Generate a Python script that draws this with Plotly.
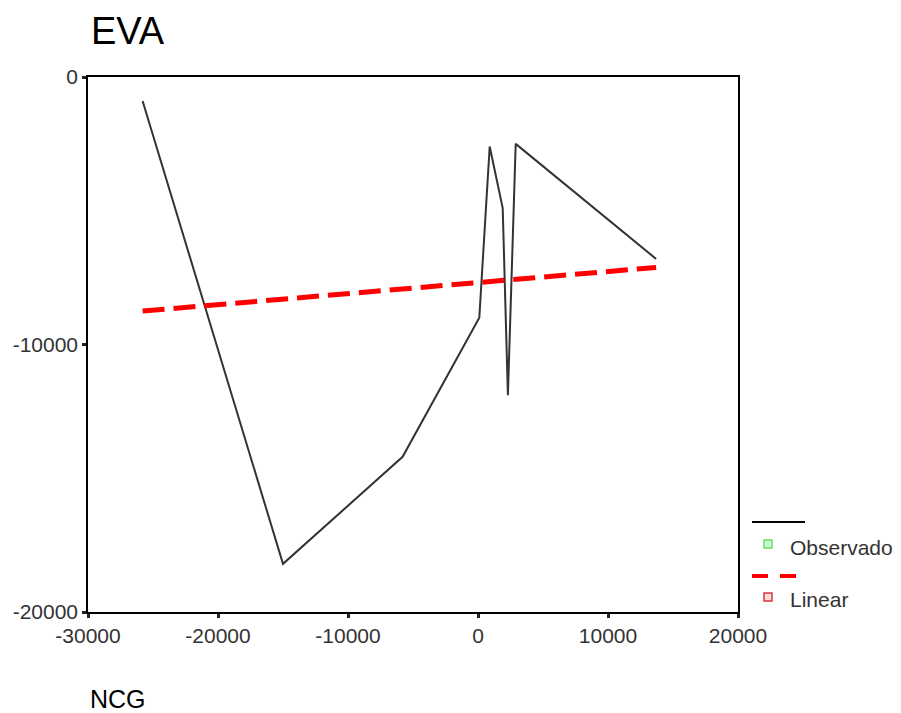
import plotly.graph_objects as go

# Observed series (NCG vs EVA)
obs_x = [-25800, -15000, -5800, 100, 900, 1900, 2300, 2900, 13700]
obs_y = [-900, -18200, -14200, -9000, -2600, -4900, -11900, -2500, -6800]

# Linear fit endpoints
lin_x = [-25800, 13700]
lin_y = [-8750, -7120]

x_ticks = [-30000, -20000, -10000, 0, 10000, 20000]
y_ticks = [-20000, -10000, 0]

FONT = "Liberation Sans, Arial, sans-serif"

# page body has 8px margin; figure sized to fill the 901x713 window
W, H = 893, 705
L, R, T, B = 80, 163, 69, 101
PW, PH = W - L - R, H - T - B  # 650 x 535


def px(xp):  # window x pixel -> paper x
    return (xp - 8 - L) / PW


def py(yp):  # window y pixel -> paper y
    return (H - B - (yp - 8)) / PH


fig = go.Figure()
fig.add_trace(go.Scatter(x=obs_x, y=obs_y, mode="lines",
                         line=dict(color="#333333", width=2), name="Observado",
                         showlegend=False))
fig.add_trace(go.Scatter(x=lin_x, y=lin_y, mode="lines",
                         line=dict(color="#ff0000", width=5, dash="22px,9px"),
                         name="Linear", showlegend=False))

axis_common = dict(showgrid=False, zeroline=False, showline=True, mirror=True,
                   linecolor="black", linewidth=1.5, ticks="outside", ticklen=4,
                   tickwidth=3, tickcolor="#222222", automargin=False,
                   tickfont=dict(size=21, color="#333333"))

fig.update_layout(
    width=W, height=H,
    margin=dict(l=L, r=R, t=T, b=B),
    paper_bgcolor="white", plot_bgcolor="white",
    font=dict(family=FONT, color="#333333"),
    xaxis=dict(range=[-30000, 20000], tickvals=x_ticks,
               ticktext=[str(v) for v in x_ticks], **axis_common),
    yaxis=dict(range=[-20000, 0], tickvals=y_ticks,
               ticktext=[str(v) for v in y_ticks], **axis_common),
    showlegend=False,
)

# Title and axis caption
fig.add_annotation(text="EVA", xref="paper", yref="paper", x=px(89), y=py(31),
                   xanchor="left", yanchor="middle", showarrow=False,
                   font=dict(size=38, color="black", family=FONT))
fig.add_annotation(text="NCG", xref="paper", yref="paper", x=px(88), y=py(699),
                   xanchor="left", yanchor="middle", showarrow=False,
                   font=dict(size=25, color="black", family=FONT))

# Custom legend
fig.add_shape(type="line", xref="paper", yref="paper", x0=px(752), x1=px(805),
              y0=py(522), y1=py(522), line=dict(color="black", width=2))
fig.add_shape(type="rect", xref="paper", yref="paper",
              x0=px(764), x1=px(772), y0=py(548), y1=py(540),
              line=dict(color="#66dd66", width=1.5), fillcolor="#ccffcc")
fig.add_annotation(text="Observado", xref="paper", yref="paper",
                   x=px(788), y=py(547), xanchor="left", yanchor="middle",
                   showarrow=False, font=dict(size=21, color="#333333", family=FONT))
fig.add_shape(type="line", xref="paper", yref="paper", x0=px(752), x1=px(805),
              y0=py(576), y1=py(576),
              line=dict(color="#ff0000", width=4, dash="16px,12px"))
fig.add_shape(type="rect", xref="paper", yref="paper",
              x0=px(764), x1=px(772), y0=py(601), y1=py(593),
              line=dict(color="#dd3344", width=1.5), fillcolor="#ffdddd")
fig.add_annotation(text="Linear", xref="paper", yref="paper",
                   x=px(788), y=py(599), xanchor="left", yanchor="middle",
                   showarrow=False, font=dict(size=21, color="#333333", family=FONT))

fig.write_html("out.html")
